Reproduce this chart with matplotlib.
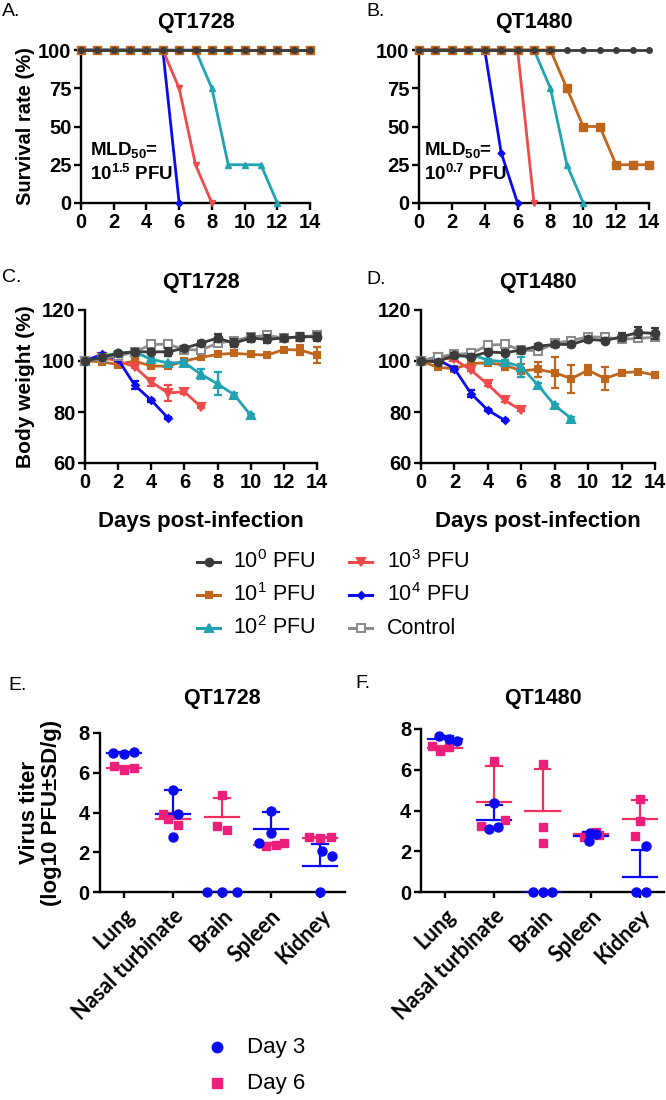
import numpy as np
import matplotlib
matplotlib.use('Agg')
import matplotlib.pyplot as plt
from matplotlib.lines import Line2D
from matplotlib.transforms import ScaledTranslation

plt.rcParams['font.family'] = ['Liberation Sans', 'DejaVu Sans']
plt.rcParams['mathtext.fontset'] = 'custom'
plt.rcParams['mathtext.rm'] = 'Liberation Sans'
plt.rcParams['mathtext.bf'] = 'Liberation Sans:bold'
plt.rcParams['mathtext.it'] = 'Liberation Sans:italic'

# ---------------- data ----------------
dose_labels = ['10$^0$ PFU', '10$^1$ PFU', '10$^2$ PFU', '10$^3$ PFU', '10$^4$ PFU', 'Control']

# Survival (%), QT1728 (panel A), starting day 0
surv_A_d0 = [100] * 15
surv_A_d1 = [100] * 15
surv_A_d2 = [100, 100, 100, 100, 100, 100, 100, 100, 75, 25, 25, 25, 0]
surv_A_d3 = [100, 100, 100, 100, 100, 100, 75, 25, 0]
surv_A_d4 = [100, 100, 100, 100, 100, 100, 0]
# Survival (%), QT1480 (panel B)
surv_B_d0 = [100] * 15
surv_B_d1 = [100, 100, 100, 100, 100, 100, 100, 100, 100, 75, 50, 50, 25, 25, 25]
surv_B_d2 = [100, 100, 100, 100, 100, 100, 100, 100, 75, 25, 0]
surv_B_d3 = [100, 100, 100, 100, 100, 100, 100, 0]
surv_B_d4 = [100, 100, 100, 100, 100, 33, 0]

# Body weight (%), QT1728 (panel C)
bw_C_d0 = [100, 101.4, 103, 103.6, 103.6, 103.6, 105, 107, 109, 107, 109, 108.5, 109, 109.5, 109.5]
bw_C_d1 = [100, 99.7, 98.6, 100, 98, 98, 100, 101.4, 102.6, 103, 102.6, 102.3, 104.5, 104.3, 102.3]
bw_C_d2 = [100, 102, 103, 103.6, 100.6, 99.3, 99.3, 94.8, 91, 86.8, 78.7]
bw_C_d3 = [100, 101.4, 100, 97.7, 91.8, 87.5, 87.9, 82]
bw_C_d4 = [100, 102.6, 100.6, 90.5, 84.6, 77.7]
bw_C_ctl = [100, 101, 102, 103.5, 106.5, 106.6, 104.5, 104.3, 107, 108, 109.5, 110, 109, 109.5, 110]
err_C_d0 = [0, 0.5, 1, 1, 1, 1.5, 1, 1, 1.5, 1.5, 1.5, 1.5, 1, 1.5, 1.5]
err_C_d1 = [0, 0.5, 0.5, 0.5, 0.5, 0.5, 0.5, 0.5, 0.5, 0.5, 0.5, 0.5, 0.5, 2, 3]
err_C_d2 = [0, 0.5, 0.5, 0.5, 0.5, 0.5, 1, 2, 4.5, 0.5, 0.5]
err_C_d3 = [0, 0.5, 0.5, 0.5, 1.5, 3, 1, 0.5]
err_C_d4 = [0, 0.5, 0.5, 1.5, 0.5, 0.5]
err_C_ctl = [0, 0.5, 0.5, 1, 1, 1, 1, 1, 1, 1, 1, 1.5, 1, 1, 1]

# Body weight (%), QT1480 (panel D)
bw_D_d0 = [100, 99.7, 102.3, 101.6, 103.6, 103.2, 104.3, 105.8, 106.5, 106.5, 108.5, 108, 109.5, 111.2, 110.8]
bw_D_d1 = [100, 97.5, 97, 99, 99.3, 98.4, 96.2, 96.7, 95.4, 93.1, 96.4, 93.1, 95.4, 95.8, 94.5]
bw_D_d2 = [100, 101.6, 101.6, 102.6, 100.3, 99.7, 97.7, 90.5, 82.6, 77.4]
bw_D_d3 = [100, 101.4, 100.6, 96.4, 90.8, 84.6, 80.7]
bw_D_d4 = [100, 100.6, 97, 87.2, 80.7, 76.8]
bw_D_ctl = [100, 101.6, 102.6, 103, 106.2, 106.5, 104.3, 104, 107, 108, 109.5, 109.3, 108.5, 108.9, 109.3]
err_D_d0 = [0, 0.5, 1, 1, 1, 1, 1, 1, 1, 1, 1, 1, 1.5, 2, 2]
err_D_d1 = [0, 0.5, 1, 0.5, 1, 2, 2.5, 3, 6, 5.5, 2, 4.5, 0.5, 0.5, 0.5]
err_D_d2 = [0, 0.5, 0.5, 0.5, 0.5, 0.5, 4, 1, 0.5, 0.5]
err_D_d3 = [0, 0.5, 0.5, 0.5, 0.5, 0.5, 0.5]
err_D_d4 = [0, 0.5, 0.5, 1.5, 0.5, 0.5]
err_D_ctl = [0, 0.5, 0.5, 0.5, 1, 1, 0.5, 1, 1, 1, 1, 1, 1, 1, 1]

# Virus titer (log10 PFU/g), 3 mice per group
organs = ['Lung', 'Nasal turbinate', 'Brain', 'Spleen', 'Kidney']
titer_E_day3 = [[6.99, 6.96, 7.05], [5.12, 3.93, 2.75], [0, 0, 0], [2.46, 4.1, 2.97], [2.04, 1.83, 0]]
titer_E_day6 = [[6.36, 6.15, 6.24], [3.94, 3.69, 3.36], [4.86, 3.34, 3.1], [2.3, 2.35, 2.46], [2.75, 2.72, 2.75]]
titer_F_day3 = [[7.64, 7.52, 7.39], [3.08, 4.36, 3.21], [0, 0, 0], [2.5, 2.88, 2.85], [0, 2.28, 0]]
titer_F_day6 = [[7.15, 6.9, 7.11], [3.25, 6.44, 3.54], [6.3, 3.18, 2.39], [2.72, 2.95, 2.8], [2.77, 3.49, 4.56]]
# horizontal jitter of each mouse within an organ column
jit_E_day3 = [[-0.22, 0, 0.2], [0, 0.1, 0], [-0.3, 0, 0.3], [-0.25, 0, 0], [0.05, 0.25, 0]]
jit_E_day6 = [[-0.2, 0, 0.2], [-0.2, -0.1, 0.1], [0, -0.1, 0.1], [-0.1, 0.1, 0.26], [-0.22, 0, 0.22]]
jit_F_day3 = [[-0.12, 0.08, 0.25], [-0.1, 0, 0.08], [-0.2, 0, 0.2], [-0.05, -0.03, 0.1], [-0.08, 0.12, 0.12]]
jit_F_day6 = [[-0.27, -0.1, 0.08], [-0.27, 0, 0.23], [0, 0, 0], [-0.15, 0.1, 0.17], [-0.1, 0, 0]]

# ---------------- styles ----------------
C0, C1, C2, C3, C4, CC = '#3b3b3b', '#c0651c', '#22a3b2', '#f04a4a', '#0a0af0', '#8c8c8c'
BLUE, PINK, PINKL = '#0a0af0', '#ee1f7a', '#ee2f5f'
W, H = 666, 1100
TICK_FS = 14.5

fig = plt.figure(figsize=(6.66, 11), dpi=100)


def ax_px(l, t, r, b):
    return fig.add_axes([l / W, 1 - b / H, (r - l) / W, (b - t) / H])


def style(ax):
    for s in ['top', 'right']:
        ax.spines[s].set_visible(False)
    for s in ['left', 'bottom']:
        ax.spines[s].set_linewidth(1.7)
    ax.tick_params(direction='out', length=5, width=1.7, labelsize=TICK_FS, pad=2)
    for lab in ax.get_xticklabels() + ax.get_yticklabels():
        lab.set_fontweight('bold')


axA = ax_px(81, 50, 310, 203)
axB = ax_px(419, 50, 649, 203)
axC = ax_px(85, 310, 317, 463)
axD = ax_px(421, 310, 655, 463)
axE = ax_px(99.5, 733, 344.5, 892)
axF = ax_px(421, 729, 664, 892)

# survival panels (drawn from highest dose up so the top line shows 10^1 / 10^0)
for ax, series in [(axA, [surv_A_d4, surv_A_d3, surv_A_d2, surv_A_d1, surv_A_d0]),
                   (axB, [surv_B_d4, surv_B_d3, surv_B_d2, surv_B_d1, surv_B_d0])]:
    specs = [(C4, 'D', 3.5), (C3, 'v', 5), (C2, '^', 5), (C1, 's', 5.5), (C0, 'o', 4)]
    for z, vals in enumerate(series):
        col, mk, ms = specs[z]
        ax.plot(np.arange(len(vals)), vals, color=col, marker=mk, ms=ms, lw=2,
                clip_on=False, zorder=3 + z)
    ax.set_xlim(0, 14)
    ax.set_ylim(0, 100)
    ax.set_xticks(range(0, 15, 2))
    ax.set_yticks([0, 25, 50, 75, 100])
    style(ax)

axA.set_ylabel('Survival rate (%)', fontsize=14.5, fontweight='bold')
axA.yaxis.set_label_coords(-0.20, 0.5)

axA.text(0.55, 34.6, r'MLD$_{\mathbf{50}}$=', fontsize=13.5, fontweight='bold', va='center')
axA.text(0.55, 19.0, r'10$^{\mathbf{1.5}}$ PFU', fontsize=13.5, fontweight='bold', va='center')
axB.text(0.3, 34.6, r'MLD$_{\mathbf{50}}$=', fontsize=13.5, fontweight='bold', va='center')
axB.text(0.3, 19.0, r'10$^{\mathbf{0.7}}$ PFU', fontsize=13.5, fontweight='bold', va='center')

# body-weight panels
bw_specs = {
    'd1': (C1, 's', 5, C1),
    'd2': (C2, '^', 5.5, C2),
    'd3': (C3, 'v', 5.5, C3),
    'd4': (C4, 'D', 3.5, C4),
    'ctl': (CC, 's', 6, 'white'),
    'd0': (C0, 'o', 5.5, C0),
}
for ax, data in [
    (axC, {'d1': (bw_C_d1, err_C_d1), 'd2': (bw_C_d2, err_C_d2), 'd3': (bw_C_d3, err_C_d3),
           'd4': (bw_C_d4, err_C_d4), 'ctl': (bw_C_ctl, err_C_ctl), 'd0': (bw_C_d0, err_C_d0)}),
    (axD, {'d1': (bw_D_d1, err_D_d1), 'd2': (bw_D_d2, err_D_d2), 'd3': (bw_D_d3, err_D_d3),
           'd4': (bw_D_d4, err_D_d4), 'ctl': (bw_D_ctl, err_D_ctl), 'd0': (bw_D_d0, err_D_d0)})]:
    for z, key in enumerate(['d1', 'd2', 'd3', 'd4', 'ctl', 'd0']):
        vals, err = data[key]
        col, mk, ms, mfc = bw_specs[key]
        x = np.arange(len(vals))
        vals = np.array(vals)
        err = np.array(err)
        m = err > 0
        ax.errorbar(x[m], vals[m], yerr=err[m], fmt='none', ecolor=col, elinewidth=1.6,
                    capsize=3, capthick=1.6, zorder=3 + 2 * z, clip_on=False)
        ax.plot(x, vals, color=col, marker=mk, ms=ms, mfc=mfc, mec=col, mew=1.5, lw=2,
                zorder=4 + 2 * z, clip_on=False)
    ax.set_xlim(0, 14)
    ax.set_ylim(60, 120)
    ax.set_xticks(range(0, 15, 2))
    ax.set_yticks([60, 80, 100, 120])
    style(ax)
    ax.set_xlabel('Days post-infection', fontsize=16, fontweight='bold', labelpad=14)

axC.set_ylabel('Body weight (%)', fontsize=15, fontweight='bold')
axC.yaxis.set_label_coords(-0.215, 0.5)

# legend for body-weight / survival
leg_specs = [(C0, 'o', 5.5, C0), (C1, 's', 5, C1), (C2, '^', 5.5, C2),
             (C3, 'v', 5.5, C3), (C4, 'D', 3.5, C4), (CC, 's', 6, 'white')]
leg_x = [(197, 220, 233), (197, 220, 233), (197, 220, 233), (349, 372, 387), (349, 372, 387), (349, 372, 387)]
leg_y = [562, 595, 628, 562, 595, 628]
for (col, mk, ms, mfc), (x0, x1, xt), yy, lab in zip(leg_specs, leg_x, leg_y, dose_labels):
    yf = 1 - yy / H
    fig.add_artist(Line2D([x0 / W, (x0 + x1) / 2 / W, x1 / W], [yf, yf, yf], transform=fig.transFigure,
                          color=col, lw=2.2, marker=mk, ms=ms, mfc=mfc, mec=col, mew=1.5, markevery=[1]))
    fig.text(xt / W, yf, lab, fontsize=15.5, va='center', ha='left')

# virus titer panels
lab_offset = ScaledTranslation(7 / 100, 0, fig.dpi_scale_trans)
for ax, d3, d6, j3, j6 in [(axE, titer_E_day3, titer_E_day6, jit_E_day3, jit_E_day6),
                           (axF, titer_F_day3, titer_F_day6, jit_F_day3, jit_F_day6)]:
    for i in range(len(organs)):
        for vals, jit, col, lcol, mk, ms in [(d6, j6, PINK, PINKL, 's', 6), (d3, j3, BLUE, BLUE, 'o', 6.5)]:
            v = np.array(vals[i])
            mean = v.mean()
            sd = v.std(ddof=1)
            ax.plot(i + np.array(jit[i]), v, ls='none', marker=mk, ms=ms, color=col,
                    clip_on=False, zorder=5)
            ax.plot([i - 0.35, i + 0.35], [mean, mean], color=lcol, lw=1.6, zorder=4)
            ax.plot([i, i], [mean, mean + sd], color=lcol, lw=1.6, zorder=4)
            ax.plot([i - 0.16, i + 0.16], [mean + sd, mean + sd], color=lcol, lw=1.6, zorder=4)
    ax.set_xlim(-0.5, 4.5)
    ax.set_ylim(0, 8)
    ax.set_yticks([0, 2, 4, 6, 8])
    ax.set_xticks(range(len(organs)))
    ax.set_xticklabels(organs)
    style(ax)
    ax.tick_params(axis='x', length=4, pad=11)
    for lab in ax.get_xticklabels():
        lab.set_rotation(45)
        lab.set_ha('right')
        lab.set_va('center')
        lab.set_rotation_mode('anchor')
        lab.set_fontfamily(['Lato', 'DejaVu Sans'])
        lab.set_fontweight('bold')
        lab.set_fontsize(15.5)
        lab.set_transform(lab.get_transform() + lab_offset)

axE.set_ylabel('Virus titer\n(log10 PFU±SD/g)', fontsize=16, fontweight='bold', linespacing=1.05)
axE.yaxis.set_label_coords(-0.153, 0.5)

# Day legend
for yy, col, mk, ms, lab in [(1047, BLUE, 'o', 7.5, 'Day 3'), (1083, PINK, 's', 7, 'Day 6')]:
    yf = 1 - yy / H
    fig.add_artist(Line2D([217 / W], [yf], transform=fig.transFigure, ls='none',
                          marker=mk, ms=ms, color=col))
    fig.text(247 / W, yf, lab, fontsize=16, va='center', ha='left',
             family=['Liberation Sans Narrow', 'Liberation Sans', 'DejaVu Sans'])

# titles
for ax, t, y in [(axA, 'QT1728', 1.18), (axB, 'QT1480', 1.18), (axC, 'QT1728', 1.18),
                 (axD, 'QT1480', 1.18), (axE, 'QT1728', 1.22), (axF, 'QT1480', 1.19)]:
    ax.text(0.5, y, t, transform=ax.transAxes, ha='center', va='center', fontsize=15.5,
            fontweight='bold')

# panel letters
for t, x, y in [('A.', 2, 12), ('B.', 366, 12), ('C.', 2, 278), ('D.', 366, 280),
                ('E.', 8, 686), ('F.', 355, 684)]:
    fig.text(x / W, 1 - y / H, t, fontsize=14, va='center', ha='left')

fig.savefig('out.png', dpi=100)
